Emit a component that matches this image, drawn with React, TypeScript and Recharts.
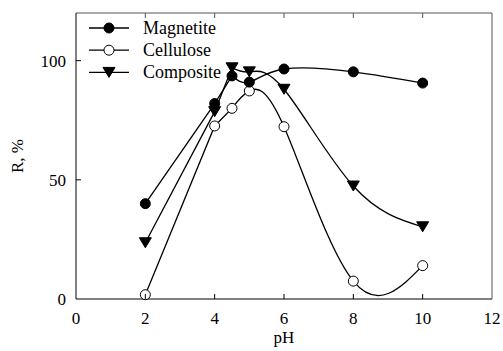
import React from "react";
import { LineChart, Line, XAxis, YAxis, Legend } from "recharts";

const phValues = [2, 4, 4.5, 5, 6, 8, 10];
const magnetite = [40, 82, 93.6, 91, 96.5, 95.3, 90.6];
const cellulose = [1.8, 72.6, 80, 87.3, 72.3, 7.5, 14];
const composite = [23.6, 78.6, 97, 95.3, 88, 47.4, 30.3];

const xTicks = [0, 2, 4, 6, 8, 10, 12];
const yTicks = [0, 50, 100];
const legendItems = [
  { name: "Magnetite", shape: "filled" },
  { name: "Cellulose", shape: "open" },
  { name: "Composite", shape: "tri" },
];

// straight segments up to pH 4.5, smoothed curve after that
const SPLIT = 4.5;

const data = phValues.map((ph, i) => ({
  ph,
  mag: magnetite[i],
  cel: cellulose[i],
  com: composite[i],
  magL: ph <= SPLIT ? magnetite[i] : null,
  celL: ph <= SPLIT ? cellulose[i] : null,
  comL: ph <= SPLIT ? composite[i] : null,
  magS: ph >= SPLIT ? magnetite[i] : null,
  celS: ph >= SPLIT ? cellulose[i] : null,
  comS: ph >= SPLIT ? composite[i] : null,
}));

const FONT = "'Times New Roman', 'Liberation Serif', 'DejaVu Serif', serif";
const W = 503;
const H = 351;
const PLOT_BOTTOM = 299;
const PLOT_TOP = 13;
const PLOT_LEFT = 76;
const PLOT_RIGHT = 492;

const T = ({ children, size = 17, ...rest }: any) => (
  <text {...rest} style={{ fontFamily: FONT, fontSize: size }} fill="#000">
    {children}
  </text>
);

const Marker = ({ cx, cy, shape }: { cx: number; cy: number; shape: string }) => {
  if (cx == null || cy == null) return null;
  if (shape === "tri") {
    return (
      <path
        d={`M${cx - 6},${cy - 5}L${cx + 6},${cy - 5}L${cx},${cy + 5}Z`}
        fill="#000"
        stroke="#000"
        strokeWidth={1}
      />
    );
  }
  return (
    <circle
      cx={cx}
      cy={cy}
      r={5}
      fill={shape === "filled" ? "#000" : "#fff"}
      stroke="#000"
      strokeWidth={1}
    />
  );
};

const dotFor = (shape: string) => (p: any) => (
  <Marker key={`${shape}-${p.index}`} cx={p.cx} cy={p.cy} shape={shape} />
);

const BottomTick = (p: any) => {
  const v = p.payload.value;
  const inner = v !== 0 && v !== 12;
  return (
    <g>
      {inner && <line x1={p.x} x2={p.x} y1={PLOT_BOTTOM} y2={PLOT_BOTTOM - 5} stroke="#000" />}
      <T x={p.x} y={PLOT_BOTTOM + 25} textAnchor="middle">
        {v}
      </T>
    </g>
  );
};

const TopTick = (p: any) => {
  const v = p.payload.value;
  if (v === 0 || v === 12) return <g />;
  return <line x1={p.x} x2={p.x} y1={PLOT_TOP} y2={PLOT_TOP + 5} stroke="#555" />;
};

const LeftTick = (p: any) => {
  const v = p.payload.value;
  return (
    <g>
      {v !== 0 && <line x1={PLOT_LEFT} x2={PLOT_LEFT + 5} y1={p.y} y2={p.y} stroke="#000" />}
      <T x={PLOT_LEFT - 10} y={p.y + 6} textAnchor="end">
        {v}
      </T>
    </g>
  );
};

const RightTick = (p: any) => {
  const v = p.payload.value;
  if (v === 0) return <g />;
  return <line x1={PLOT_RIGHT} x2={PLOT_RIGHT - 5} y1={p.y} y2={p.y} stroke="#555" />;
};

const LegendBox = () => (
  <svg width={170} height={80} style={{ display: "block", overflow: "visible" }}>
    {legendItems.map((it, i) => {
      const y = 12 + i * 22.2;
      return (
        <g key={it.name}>
          <line x1={9} x2={49} y1={y} y2={y} stroke="#000" strokeWidth={1.3} />
          <Marker cx={29} cy={y} shape={it.shape} />
          <T x={63} y={y + 6} size={18}>
            {it.name}
          </T>
        </g>
      );
    })}
  </svg>
);

export default function App() {
  return (
    <div style={{ position: "fixed", left: 0, top: 0, width: W, height: H, background: "#fff" }}>
      <LineChart
        width={W}
        height={H}
        data={data}
        margin={{ top: PLOT_TOP - 1, right: W - PLOT_RIGHT - 1, bottom: 0, left: 0 }}
      >
        <XAxis
          dataKey="ph"
          type="number"
          domain={[0, 12]}
          ticks={xTicks}
          axisLine={{ stroke: "#000" }}
          tickLine={false}
          tickSize={0}
          tickMargin={0}
          height={H - PLOT_BOTTOM}
          tick={<BottomTick />}
          interval={0}
          label={{
            content: () => (
              <T x={(PLOT_LEFT + PLOT_RIGHT) / 2} y={343} textAnchor="middle">
                pH
              </T>
            ),
          }}
        />
        <XAxis
          xAxisId="top"
          orientation="top"
          dataKey="ph"
          type="number"
          domain={[0, 12]}
          ticks={xTicks}
          axisLine={{ stroke: "#555" }}
          tickLine={false}
          tickSize={0}
          tickMargin={0}
          height={1}
          tick={<TopTick />}
          interval={0}
        />
        <YAxis
          type="number"
          domain={[0, 120]}
          ticks={yTicks}
          axisLine={{ stroke: "#000" }}
          tickLine={false}
          tickSize={0}
          tickMargin={0}
          width={PLOT_LEFT}
          tick={<LeftTick />}
          interval={0}
          label={{
            content: () => (
              <T x={23} y={156} transform="rotate(-90 23 156)" textAnchor="middle">
                R, %
              </T>
            ),
          }}
        />
        <YAxis
          yAxisId="right"
          orientation="right"
          type="number"
          domain={[0, 120]}
          ticks={yTicks}
          axisLine={{ stroke: "#555" }}
          tickLine={false}
          tickSize={0}
          tickMargin={0}
          width={1}
          tick={<RightTick />}
          interval={0}
        />
        <Legend
          layout="vertical"
          align="center"
          verticalAlign="middle"
          content={<LegendBox />}
          wrapperStyle={{ position: "absolute", left: 80, top: 16, width: 170, height: 80 }}
        />
        <Line dataKey="magL" type="linear" stroke="#000" strokeWidth={1.3} dot={false} isAnimationActive={false} connectNulls={false} />
        <Line dataKey="celL" type="linear" stroke="#000" strokeWidth={1.3} dot={false} isAnimationActive={false} connectNulls={false} />
        <Line dataKey="comL" type="linear" stroke="#000" strokeWidth={1.3} dot={false} isAnimationActive={false} connectNulls={false} />
        <Line dataKey="magS" type="natural" stroke="#000" strokeWidth={1.3} dot={false} isAnimationActive={false} connectNulls={false} />
        <Line dataKey="celS" type="natural" stroke="#000" strokeWidth={1.3} dot={false} isAnimationActive={false} connectNulls={false} />
        <Line dataKey="comS" type="natural" stroke="#000" strokeWidth={1.3} dot={false} isAnimationActive={false} connectNulls={false} />
        <Line dataKey="cel" stroke="none" dot={dotFor("open")} activeDot={false} isAnimationActive={false} />
        <Line dataKey="com" stroke="none" dot={dotFor("tri")} activeDot={false} isAnimationActive={false} />
        <Line dataKey="mag" stroke="none" dot={dotFor("filled")} activeDot={false} isAnimationActive={false} />
      </LineChart>
    </div>
  );
}
